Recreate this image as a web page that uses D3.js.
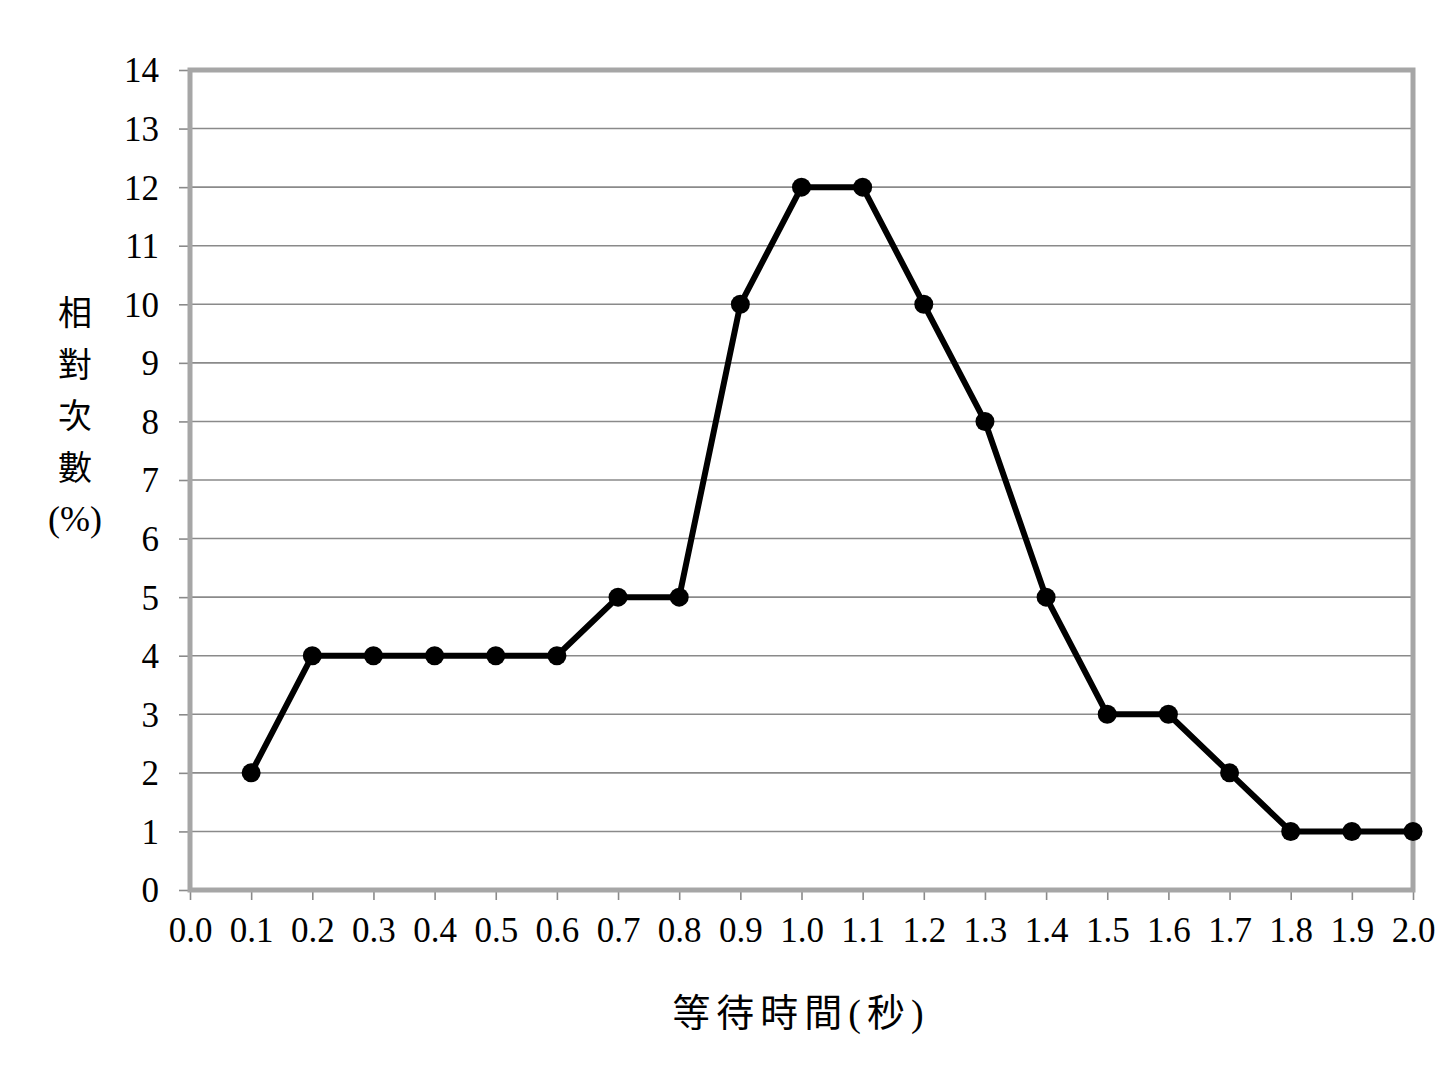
<!DOCTYPE html>
<html><head><meta charset="utf-8">
<script src="https://cdn.jsdelivr.net/npm/d3@7"></script>
<style>
body{margin:0;background:#fff;}
svg{display:block;}
text{font-family:"Liberation Serif","Noto Sans CJK TC",serif;fill:#000;}
</style></head>
<body>
<script>
const categories = [0.1,0.2,0.3,0.4,0.5,0.6,0.7,0.8,0.9,1.0,1.1,1.2,1.3,1.4,1.5,1.6,1.7,1.8,1.9,2.0];
const values = [2,4,4,4,4,4,5,5,10,12,12,10,8,5,3,3,2,1,1,1];
const xTicks = [0.0,0.1,0.2,0.3,0.4,0.5,0.6,0.7,0.8,0.9,1.0,1.1,1.2,1.3,1.4,1.5,1.6,1.7,1.8,1.9,2.0];
const yTicks = [0,1,2,3,4,5,6,7,8,9,10,11,12,13,14];
const yTitle = ["相","對","次","數","(%)"];
const xTitle = "等待時間(秒)";

const W=1447,H=1067;
const m={left:190,right:1413,top:70,bottom:890};
const svg=d3.select("body").append("svg").attr("width",W).attr("height",H);
const x=d3.scaleLinear().domain([0,2]).range([m.left,m.right]);
const y=d3.scaleLinear().domain([0,14]).range([m.bottom,m.top]);

// gridlines
svg.append("g").selectAll("line").data(yTicks.filter(d=>d>0&&d<14)).join("line")
  .attr("x1",m.left).attr("x2",m.right).attr("y1",d=>y(d)).attr("y2",d=>y(d))
  .attr("stroke","#8a8a8a").attr("stroke-width",1.6);

// y axis
const ya=svg.append("g").attr("transform",`translate(${m.left},0)`)
  .call(d3.axisLeft(y).tickValues(yTicks).tickSize(11).tickPadding(20).tickFormat(d3.format("d")));
ya.select(".domain").remove();
ya.selectAll("line").attr("stroke","#8a8a8a").attr("stroke-width",1.6);
ya.selectAll("text").attr("font-size",35).attr("font-family","Liberation Serif").attr("dy","0.34em");

// x axis
const xa=svg.append("g").attr("transform",`translate(0,${m.bottom})`)
  .call(d3.axisBottom(x).tickValues(xTicks).tickSize(10).tickPadding(17).tickFormat(d3.format(".1f")));
xa.select(".domain").remove();
xa.selectAll("line").attr("stroke","#8a8a8a").attr("stroke-width",1.6);
xa.selectAll("text").attr("font-size",35).attr("font-family","Liberation Serif").attr("dy","0.71em");

// frame
svg.append("rect").attr("x",m.left).attr("y",m.top).attr("width",m.right-m.left).attr("height",m.bottom-m.top)
  .attr("fill","none").attr("stroke","#a6a6a6").attr("stroke-width",5);

// line
const data=categories.map((c,i)=>({x:c,y:values[i]}));
svg.append("path").datum(data)
  .attr("d",d3.line().x(d=>x(d.x)).y(d=>y(d.y)))
  .attr("fill","none").attr("stroke","#000").attr("stroke-width",6).attr("stroke-linejoin","round");
svg.append("g").selectAll("circle").data(data).join("circle")
  .attr("cx",d=>x(d.x)).attr("cy",d=>y(d.y)).attr("r",9.5).attr("fill","#000");

// y title
svg.append("g").selectAll("text").data(yTitle).join("text")
  .attr("x",75).attr("y",(d,i)=>325+i*51.5).attr("text-anchor","middle")
  .attr("font-size",d=>d==="(%)"?36:34).text(d=>d);

// x title
svg.append("text").attr("x",801).attr("y",1026).attr("text-anchor","middle")
  .attr("font-size",38).attr("letter-spacing",6).text(xTitle);
</script>
</body></html>
